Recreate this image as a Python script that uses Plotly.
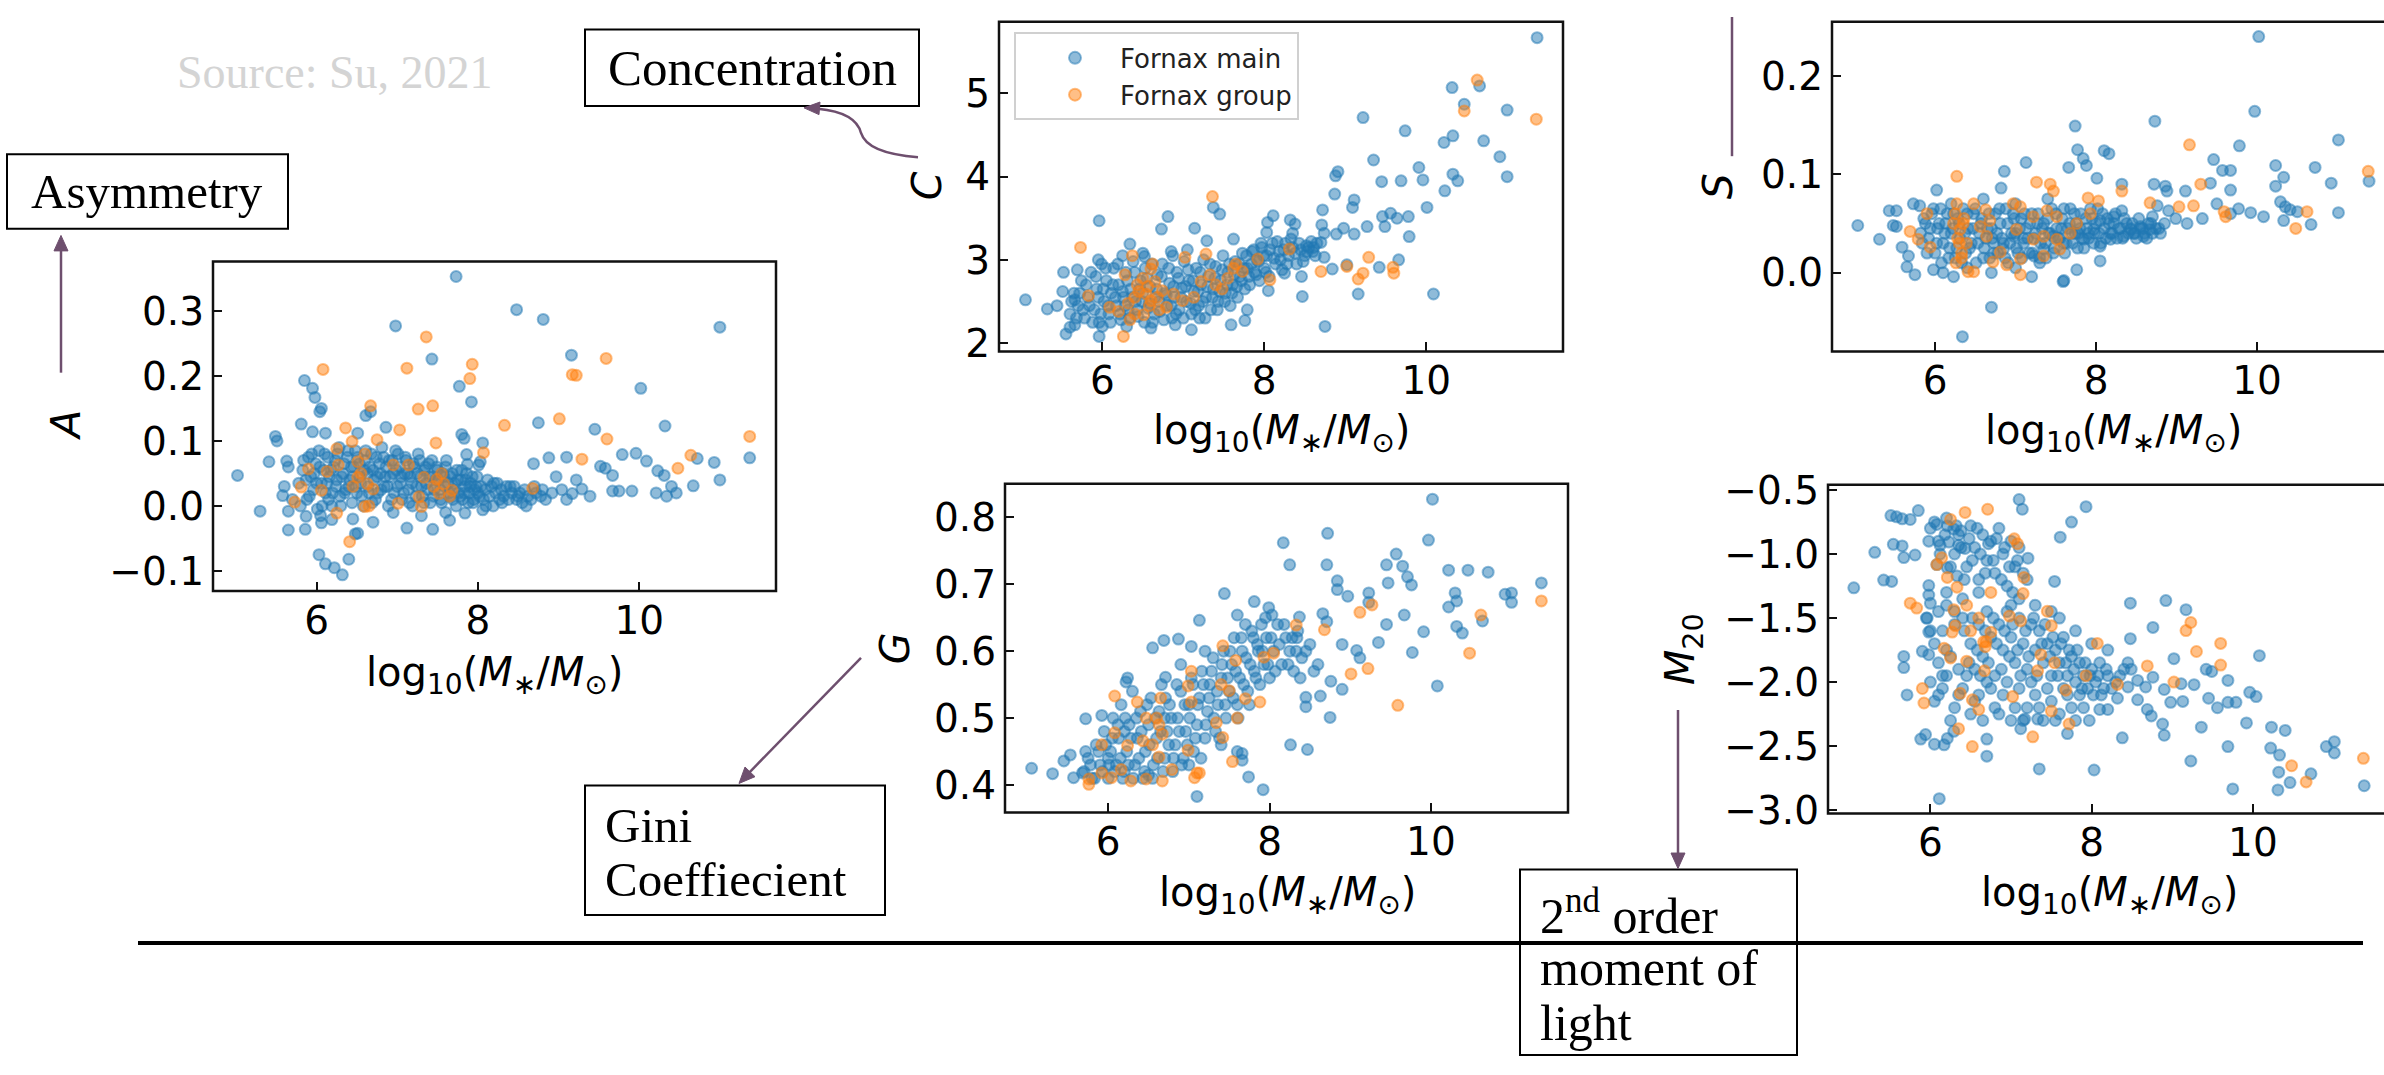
import plotly.graph_objects as go

W, H = 2384, 1075

# ---------------- data ----------------
A_main = [(5.02,0.047),(5.30,-0.008),(5.49,0.107),(5.51,0.10),(5.41,0.068),(5.63,0.069),(5.58,0.016),(5.65,-0.037),(5.86,-0.036),(5.81,0.126),(5.85,0.193),(5.95,0.181),(5.98,0.167),(6.06,0.15),(6.04,0.145),(5.95,0.114),(6.11,0.112),(6.03,-0.075),(6.11,-0.089),(6.22,-0.095),(6.32,-0.106),(6.40,-0.082),(6.51,-0.042),(6.61,0.139),(6.67,0.145),(6.51,0.112),(6.86,0.121),(6.98,0.277),(7.43,0.226),(7.77,0.184),(7.92,0.16),(7.80,0.11),(7.83,0.104),(8.06,0.097),(7.86,0.079),(8.01,0.063),(7.73,0.353),(8.48,0.302),(8.81,0.287),(9.16,0.232),(8.75,0.128),(9.45,0.118),(10.02,0.181),(10.32,0.123),(11.0,0.275),(11.37,0.074),(11.0,0.04),(8.69,0.065),(8.88,0.074),(9.1,0.075),(8.97,0.045),(9.22,0.04),(9.1,0.01),(9.29,0.026),(9.39,0.015),(9.52,0.061),(9.58,0.058),(9.67,0.047),(9.79,0.079),(9.96,0.081),(10.09,0.069),(10.23,0.054),(10.31,0.047),(10.21,0.02),(10.34,0.015),(10.46,0.02),(10.4,0.03),(10.67,0.031),(10.72,0.073),(10.93,0.067),(9.67,0.023),(9.75,0.023),(9.91,0.023),(9.04,0.025),(9.17,0.019),(7.12,-0.034),(7.44,-0.036),(7.65,-0.022),(6.48,-0.043),(5.65,-0.008),(5.87,-0.016),(6.06,-0.026),(6.19,-0.021),(7.84,-0.011),(8.06,-0.006),(8.03,0.068),(7.87,0.064),
(5.78,0.035),(5.83,0.055),(5.88,0.01),(5.9,0.075),(5.93,0.045),(5.96,0.025),(5.99,0.065),(6.01,-0.005),(6.03,0.085),(6.06,0.035),(6.09,0.055),(6.11,0.02),(6.14,0.075),(6.16,0.045),(6.19,0.0),(6.21,0.06),(6.24,0.03),(6.26,0.08),(6.29,0.015),(6.31,0.045),(6.34,0.065),(6.36,0.025),(6.39,0.085),(6.41,0.04),(6.44,0.005),(6.46,0.06),(6.49,0.03),(6.51,0.075),(6.54,0.045),(6.56,0.015),(6.59,0.055),(6.61,0.085),(6.64,0.03),(6.66,0.06),(6.69,0.005),(6.71,0.04),(6.74,0.075),(6.76,0.02),(6.79,0.05),(6.81,0.09),(6.84,0.03),(6.86,0.06),(6.89,0.0),(6.91,0.045),(6.94,0.07),(6.96,0.02),(6.99,0.055),(7.01,0.08),(7.04,0.035),(7.06,0.01),(7.09,0.05),(7.11,0.07),(7.14,0.025),(7.16,0.045),(7.19,0.0),(7.21,0.06),(7.24,0.03),(7.26,0.08),(7.29,0.045),(7.31,0.015),(7.34,0.055),(7.36,0.035),(7.39,0.065),(7.41,0.005),(7.44,0.045),(7.46,0.025),(7.49,0.06),(7.51,0.04),(7.54,0.01),(7.56,0.05),(7.59,0.03),(7.61,0.07),(7.64,0.02),(7.66,0.045),(7.69,0.01),(7.71,0.035),(7.74,0.055),(7.76,0.02),(7.79,0.04),(7.81,0.01),(7.84,0.03),(7.86,0.05),(7.89,0.02),(7.91,0.035),(7.94,0.005),(7.96,0.025),(7.99,0.045),(8.02,0.015),(8.04,0.03),(8.07,0.01),(8.09,0.025),(8.12,0.04),(8.14,0.015),(8.17,0.03),(8.19,0.0),(8.22,0.02),(8.24,0.035),(8.27,0.01),(8.29,0.025),(8.32,0.015),(8.35,0.03),(8.38,0.01),(8.42,0.02),(8.45,0.03),(8.48,0.01),(8.52,0.02),(8.55,0.005),(8.58,0.025),(8.62,0.015),(8.66,0.01),(8.72,0.02),(8.78,0.015),(8.84,0.01),(8.92,0.02),(6.05,-0.015),(6.45,-0.02),(6.7,-0.025),(6.95,-0.01),(7.3,-0.015),(7.6,-0.01),(5.7,0.01),(5.6,0.03),(5.65,0.06),
(5.8,0.0),(5.84,0.07),(5.87,0.04),(5.91,0.015),(5.94,0.08),(5.97,0.05),(6.0,0.035),(6.04,0.06),(6.07,0.0),(6.1,0.08),(6.13,0.035),(6.15,0.01),(6.18,0.055),(6.2,0.02),(6.23,0.07),(6.25,0.04),(6.28,0.09),(6.3,0.0),(6.33,0.05),(6.35,0.02),(6.38,0.075),(6.4,0.03),(6.43,0.06),(6.45,0.045),(6.48,0.085),(6.5,0.02),(6.53,0.065),(6.55,0.035),(6.58,0.0),(6.6,0.07),(6.63,0.05),(6.65,0.02),(6.68,0.08),(6.7,0.055),(6.73,0.01),(6.75,0.045),(6.78,0.065),(6.8,0.025),(6.83,0.075),(6.85,0.045),(6.88,0.03),(6.9,0.07),(6.93,0.01),(6.95,0.05),(6.98,0.085),(7.0,0.03),(7.03,0.06),(7.05,0.045),(7.08,0.02),(7.1,0.075),(7.13,0.05),(7.15,0.005),(7.18,0.035),(7.2,0.065),(7.23,0.015),(7.25,0.05),(7.28,0.07),(7.3,0.03),(7.33,0.005),(7.35,0.06),(7.38,0.025),(7.4,0.045),(7.43,0.07),(7.45,0.015),(7.48,0.04),(7.5,0.055),(7.53,0.025),(7.55,0.005),(7.58,0.045),(7.6,0.06),(7.63,0.035),(7.65,0.015),(7.68,0.05),(7.7,0.025),(7.73,0.0),(7.75,0.04),(7.78,0.015),(7.8,0.055),(7.83,0.02),(7.85,0.04),(7.88,0.005),(7.9,0.03),(7.93,0.045),(7.95,0.01),(7.98,0.03),(8.0,0.02),(8.1,0.0),(8.2,0.035),(8.3,0.005),(8.4,0.03),(8.5,0.015),(8.6,0.0),(8.7,0.03),(8.8,0.025)]
A_group = [(6.08,0.21),(7.36,0.26),(7.12,0.212),(7.93,0.218),(7.90,0.196),(7.26,0.149),(7.44,0.154),(6.67,0.154),(6.36,0.12),(6.44,0.099),(6.75,0.102),(7.03,0.117),(7.48,0.097),(8.07,0.082),(8.33,0.124),(9.01,0.134),(9.59,0.227),(9.17,0.202),(9.22,0.201),(9.29,0.072),(9.6,0.103),(10.48,0.058),(10.64,0.078),(11.37,0.107),(8.68,0.027),(6.41,-0.055),(5.73,0.006),(5.9,0.057),(6.25,0.088),(6.27,0.063),(6.51,0.068),(6.63,0.034),(6.7,0.026),(6.60,-0.001),(6.25,-0.011),(6.95,0.063),(7.14,0.063),(7.33,0.044),(7.49,0.041),(7.58,0.034),(7.68,0.024),(7.52,0.019),(7.01,0.004),(7.27,0.014),(6.13,0.053),(5.81,0.029),(6.06,0.024),(6.51,0.044),(7.3,-0.001),(6.55,0.05),(6.6,0.08),(6.45,0.03),(6.65,0.0),(7.45,0.03),(7.55,0.05),(7.65,0.015)]

C_main = [(5.05,2.52),(5.32,2.41),(5.44,2.45),(5.52,2.85),(5.51,2.62),(5.55,2.11),(5.6,2.19),(5.66,2.22),(5.66,2.52),(5.69,2.88),(5.96,3.47),(5.96,2.08),(6.34,3.19),(6.52,3.04),(6.73,3.37),(6.81,3.52),(6.87,3.05),(7.14,3.38),(7.10,2.16),(7.29,3.23),(7.37,3.63),(7.45,3.55),(7.62,3.25),(7.59,2.22),(7.76,2.27),(7.79,2.40),(8.11,3.53),(8.04,3.45),(8.03,3.33),(8.05,2.63),(8.25,2.84),(8.32,3.48),(8.38,3.43),(8.35,3.32),(8.46,2.80),(8.47,2.56),(8.52,3.17),(8.61,3.15),(8.70,3.21),(8.72,3.60),(8.71,3.42),(8.74,3.32),(8.74,3.03),(8.75,2.20),(8.84,2.89),(8.87,3.79),(8.88,4.01),(8.91,4.06),(8.89,3.31),(8.98,3.38),(9.02,2.94),(9.09,3.63),(9.11,3.72),(9.11,3.31),(9.16,2.59),(9.22,4.71),(9.27,3.40),(9.35,4.20),(9.42,2.91),(9.45,3.94),(9.46,3.52),(9.49,3.40),(9.56,3.56),(9.64,3.50),(9.66,3.0),(9.69,3.95),(9.74,4.55),(9.78,3.52),(9.79,3.28),(9.91,4.11),(9.96,3.96),(10.01,3.63),(10.09,2.59),(10.23,3.83),(10.22,4.41),(10.33,4.49),(10.32,5.07),(10.33,4.03),(10.39,3.95),(10.47,4.87),(10.66,5.09),(10.71,4.43),(10.91,4.24),(11.0,4.0),(11.0,4.80),(11.37,5.67),
(5.6,2.35),(5.65,2.6),(5.7,2.45),(5.74,2.75),(5.78,2.3),(5.82,2.55),(5.86,2.85),(5.9,2.4),(5.93,2.65),(5.96,2.25),(5.99,2.95),(6.02,2.5),(6.05,2.75),(6.08,2.35),(6.11,2.6),(6.14,2.9),(6.17,2.45),(6.2,2.7),(6.23,2.28),(6.26,2.55),(6.29,2.85),(6.32,2.4),(6.35,2.65),(6.38,2.98),(6.41,2.5),(6.44,2.32),(6.47,2.75),(6.5,2.6),(6.53,2.9),(6.56,2.42),(6.59,2.68),(6.62,2.25),(6.65,2.55),(6.68,2.82),(6.71,2.38),(6.74,2.95),(6.77,2.6),(6.8,2.45),(6.83,2.72),(6.86,2.3),(6.89,2.55),(6.92,2.85),(6.95,2.4),(6.98,2.66),(7.01,2.98),(7.04,2.5),(7.07,2.75),(7.1,2.35),(7.13,2.62),(7.16,2.9),(7.19,2.45),(7.22,2.7),(7.25,3.0),(7.28,2.55),(7.31,2.8),(7.34,2.4),(7.37,2.65),(7.4,2.92),(7.43,2.5),(7.46,2.75),(7.49,3.05),(7.52,2.6),(7.55,2.85),(7.58,2.45),(7.61,2.7),(7.64,2.98),(7.67,2.55),(7.7,2.8),(7.73,3.08),(7.76,2.65),(7.79,2.9),(7.82,2.7),(7.85,3.1),(7.88,2.85),(7.91,3.0),(7.94,2.75),(7.97,3.15),(8.0,2.9),(8.03,3.05),(8.06,2.8),(8.1,3.2),(8.14,2.95),(8.18,3.1),(8.22,2.88),(8.26,3.2),(8.3,3.05),(8.35,3.15),(8.4,2.95),(8.45,3.12),(8.5,3.05),(8.55,3.15),(8.6,3.1),(8.65,3.2),(6.0,2.2),(6.3,2.2),(6.6,2.18),(6.9,2.22),(7.2,2.3),(5.95,3.0),(6.25,3.05),(6.5,3.08),(6.85,3.1),(7.05,3.12),
(5.62,2.5),(5.68,2.3),(5.72,2.6),(5.76,2.4),(5.8,2.7),(5.84,2.45),(5.88,2.25),(5.92,2.8),(5.95,2.55),(5.98,2.35),(6.01,2.65),(6.04,2.9),(6.07,2.45),(6.1,2.25),(6.13,2.7),(6.16,2.55),(6.19,2.95),(6.22,2.35),(6.25,2.62),(6.28,2.45),(6.31,2.75),(6.34,2.3),(6.37,2.55),(6.4,2.85),(6.43,2.4),(6.46,2.65),(6.49,2.5),(6.52,2.25),(6.55,2.78),(6.58,2.48),(6.61,2.95),(6.64,2.35),(6.67,2.65),(6.7,2.5),(6.73,2.8),(6.76,2.28),(6.79,2.58),(6.82,2.9),(6.85,2.45),(6.88,2.68),(6.91,2.35),(6.94,2.78),(6.97,2.55),(7.0,2.3),(7.03,2.68),(7.06,2.88),(7.09,2.48),(7.12,2.75),(7.15,2.4),(7.18,2.62),(7.21,2.85),(7.24,2.5),(7.27,2.3),(7.3,2.68),(7.33,2.95),(7.36,2.55),(7.39,2.78),(7.42,2.4),(7.45,2.62),(7.48,2.88),(7.51,2.5),(7.54,2.7),(7.57,2.95),(7.6,2.6),(7.63,2.82),(7.66,2.68),(7.69,2.95),(7.72,2.75),(7.75,2.9),(7.78,3.05),(7.81,2.8),(7.84,2.95),(7.87,3.12),(7.9,2.82),(7.93,2.98),(7.96,3.2),(7.99,3.05),(8.02,2.85),(8.07,3.12),(8.12,3.02),(8.16,3.22),(8.2,3.0),(8.24,3.12),(8.28,2.95),(8.33,3.25),(8.38,3.08),(8.43,3.2),(8.48,2.98),(8.53,3.1),(8.58,3.22),(8.63,3.05)]
C_group = [(5.73,3.15),(5.83,2.57),(6.26,2.08),(6.37,3.05),(6.28,2.82),(6.43,2.70),(6.54,2.59),(6.65,2.74),(6.74,2.63),(6.60,2.89),(6.51,2.34),(6.34,2.28),(6.20,2.38),(6.09,2.43),(6.88,2.59),(6.99,2.51),(7.13,2.55),(7.22,2.74),(7.33,2.82),(7.48,2.65),(7.02,3.03),(7.28,3.07),(7.36,3.76),(7.62,2.90),(7.73,2.86),(7.92,3.01),(8.07,2.76),(8.31,3.13),(8.70,2.86),(9.02,2.92),(9.16,2.77),(9.22,2.84),(9.29,3.03),(9.59,2.91),(9.60,2.84),(10.47,4.79),(10.63,5.16),(11.36,4.69),(6.60,2.51),(6.40,2.55),(6.79,2.43),(6.45,2.62),(6.58,2.45),(6.68,2.55),(6.32,2.48),(6.5,2.78),(6.62,2.95),(6.7,2.4),(6.4,2.35),(6.56,2.68),(7.4,2.7),(7.55,2.78),(7.65,2.95)]

S_main = [(5.04,0.048),(5.31,0.034),(5.43,0.063),(5.52,0.063),(5.48,0.048),(5.52,0.047),(5.59,0.026),(5.67,0.017),(5.65,0.006),(5.75,-0.002),(5.73,0.07),(5.81,0.068),(6.02,0.084),(5.98,0.003),(6.23,-0.004),(6.70,-0.035),(6.34,-0.065),(6.82,0.086),(6.86,0.103),(7.13,0.112),(7.20,-0.004),(7.59,-0.009),(7.74,0.149),(7.77,0.125),(7.84,0.116),(7.88,0.109),(7.66,0.107),(7.76,0.003),(10.02,0.240),(9.97,0.164),(8.73,0.154),(8.10,0.124),(8.16,0.121),(8.01,0.096),(8.32,0.09),(8.72,0.09),(8.86,0.088),(8.88,0.083),(9.11,0.083),(9.46,0.115),(9.57,0.104),(9.67,0.104),(9.78,0.129),(9.67,0.084),(9.42,0.091),(10.23,0.109),(10.33,0.097),(10.23,0.088),(10.72,0.107),(10.92,0.091),(11.01,0.135),(11.39,0.093),(11.01,0.061),(10.29,0.072),(10.35,0.067),(10.41,0.064),(10.50,0.062),(10.33,0.053),(10.67,0.049),(10.08,0.057),(9.92,0.061),(9.77,0.065),(9.67,0.06),(9.50,0.070),(9.32,0.055),(9.13,0.05),(8.99,0.055),(8.90,0.063),(8.76,0.068),(8.70,0.057),(8.55,0.047),(8.43,0.044),(8.32,0.063),(8.22,0.057),(8.05,0.053),(7.97,0.044),(7.85,0.034),(7.74,0.04),(7.60,0.03),(7.47,0.037),(7.35,0.024),(7.23,0.017),(7.1,0.03),(6.98,0.037),(6.85,0.024),(6.73,0.03),(8.05,0.012),(7.6,-0.008),(8.05,0.027),(8.18,0.034),(8.34,0.037),(8.47,0.04),(8.59,0.037),(8.67,0.044),
(5.82,0.04),(5.86,0.055),(5.9,0.02),(5.94,0.045),(5.98,0.065),(6.02,0.03),(6.05,0.05),(6.08,0.01),(6.12,0.04),(6.15,0.06),(6.18,0.025),(6.22,0.045),(6.25,0.015),(6.28,0.055),(6.31,0.035),(6.35,0.065),(6.38,0.02),(6.41,0.045),(6.45,0.03),(6.48,0.06),(6.51,0.01),(6.55,0.04),(6.58,0.055),(6.61,0.025),(6.65,0.045),(6.68,0.015),(6.71,0.035),(6.75,0.06),(6.78,0.02),(6.81,0.05),(6.85,0.03),(6.88,0.065),(6.91,0.01),(6.95,0.04),(6.98,0.055),(7.01,0.025),(7.05,0.045),(7.08,0.015),(7.11,0.06),(7.15,0.035),(7.18,0.05),(7.21,0.02),(7.25,0.04),(7.28,0.06),(7.31,0.03),(7.35,0.05),(7.38,0.015),(7.41,0.04),(7.45,0.065),(7.48,0.025),(7.51,0.045),(7.55,0.035),(7.58,0.055),(7.61,0.02),(7.65,0.045),(7.68,0.065),(7.71,0.03),(7.75,0.05),(7.78,0.04),(7.81,0.06),(7.85,0.025),(7.88,0.045),(7.91,0.035),(7.95,0.055),(7.98,0.04),(8.02,0.065),(8.06,0.03),(8.1,0.045),(8.14,0.055),(8.18,0.04),(8.22,0.05),(8.26,0.035),(8.3,0.045),(8.35,0.055),(8.4,0.04),(8.45,0.05),(8.5,0.035),(8.55,0.045),(8.6,0.04),(8.65,0.05),(8.7,0.04),(8.78,0.045),(8.85,0.05),(6.1,0.0),(6.4,0.005),(6.7,0.0),(7.0,0.005),(7.3,0.01),(6.2,0.07),(6.6,0.075),(7.0,0.07),(7.4,0.075),
(5.84,0.03),(5.88,0.05),(5.92,0.035),(5.96,0.06),(6.0,0.02),(6.03,0.045),(6.07,0.065),(6.1,0.03),(6.13,0.05),(6.17,0.015),(6.2,0.04),(6.23,0.06),(6.27,0.025),(6.3,0.05),(6.33,0.01),(6.37,0.04),(6.4,0.06),(6.43,0.025),(6.47,0.045),(6.5,0.065),(6.53,0.03),(6.57,0.05),(6.6,0.015),(6.63,0.035),(6.67,0.06),(6.7,0.045),(6.73,0.02),(6.77,0.04),(6.8,0.065),(6.83,0.035),(6.87,0.015),(6.9,0.05),(6.93,0.03),(6.97,0.06),(7.0,0.04),(7.03,0.02),(7.07,0.055),(7.1,0.035),(7.13,0.045),(7.17,0.02),(7.2,0.06),(7.23,0.035),(7.27,0.05),(7.3,0.015),(7.33,0.045),(7.37,0.03),(7.4,0.055),(7.43,0.04),(7.47,0.02),(7.5,0.06),(7.53,0.035),(7.57,0.045),(7.6,0.065),(7.63,0.03),(7.67,0.05),(7.7,0.04),(7.73,0.06),(7.77,0.025),(7.8,0.045),(7.83,0.035),(7.87,0.055),(7.9,0.04),(7.93,0.065),(7.97,0.03),(8.0,0.05),(8.04,0.04),(8.08,0.06),(8.12,0.035),(8.16,0.05),(8.2,0.04),(8.24,0.06),(8.28,0.045),(8.33,0.035),(8.38,0.05),(8.43,0.045),(8.48,0.04),(8.53,0.055),(8.58,0.045),(8.63,0.035),(8.68,0.05),(8.74,0.045),(8.8,0.04)]
S_group = [(6.27,0.098),(5.9,0.06),(5.69,0.042),(5.79,0.034),(5.94,0.026),(6.27,0.07),(6.48,0.070),(6.63,0.064),(6.23,0.05),(6.31,0.044),(6.39,0.03),(6.56,0.047),(6.68,0.053),(6.64,0.037),(6.48,0.001),(6.41,0.001),(7.06,-0.002),(7.26,0.092),(7.43,0.09),(7.47,0.083),(6.97,0.07),(7.06,0.067),(7.22,0.057),(7.39,0.063),(7.51,0.057),(7.01,0.044),(7.22,0.034),(7.35,0.037),(7.51,0.034),(7.68,0.04),(7.76,0.05),(7.06,0.014),(7.35,0.017),(7.55,0.024),(6.72,0.011),(6.81,0.021),(6.89,0.008),(7.93,0.06),(7.9,0.076),(9.16,0.130),(11.38,0.103),(9.30,0.09),(8.32,0.083),(8.67,0.071),(9.03,0.067),(9.21,0.068),(9.59,0.062),(9.61,0.057),(10.62,0.062),(10.48,0.045),(8.03,0.073),(6.28,0.035),(6.33,0.02),(6.36,0.055),(6.26,0.01),(6.3,0.03),(6.35,0.05),(6.25,0.06),(6.33,0.015)]

G_main = [(5.05,0.425),(5.31,0.417),(5.45,0.436),(5.53,0.445),(5.57,0.411),(5.68,0.418),(5.72,0.499),(5.92,0.504),(6.22,0.554),(6.24,0.56),(6.55,0.605),(6.69,0.616),(6.87,0.618),(7.03,0.607),(6.71,0.561),(7.10,0.383),(7.13,0.646),(7.44,0.686),(7.92,0.393),(7.74,0.412),(7.66,0.437),(7.66,0.447),(7.60,0.654),(7.81,0.674),(7.99,0.665),(8.03,0.654),(8.17,0.762),(8.25,0.729),(8.26,0.46),(8.47,0.453),(8.34,0.62),(8.37,0.651),(8.45,0.517),(8.63,0.533),(8.45,0.531),(8.75,0.501),(8.90,0.543),(8.76,0.555),(8.72,0.776),(8.71,0.729),(8.66,0.656),(8.71,0.644),(8.90,0.61),(8.84,0.705),(8.84,0.692),(8.97,0.682),(9.08,0.601),(9.23,0.687),(9.23,0.673),(9.12,0.59),(9.35,0.613),(9.45,0.729),(9.57,0.745),(9.47,0.702),(9.65,0.727),(9.71,0.711),(9.76,0.699),(9.45,0.64),(9.67,0.654),(9.77,0.598),(9.91,0.629),(9.97,0.766),(10.02,0.827),(10.08,0.548),(10.22,0.721),(10.46,0.721),(10.71,0.718),(10.22,0.666),(10.30,0.687),(10.32,0.675),(10.32,0.637),(10.39,0.627),(10.64,0.645),(10.92,0.685),(11.0,0.687),(11.0,0.673),(11.37,0.702),
(5.7,0.42),(5.75,0.44),(5.8,0.41),(5.85,0.46),(5.9,0.43),(5.95,0.48),(6.0,0.41),(6.03,0.45),(6.06,0.5),(6.1,0.43),(6.13,0.47),(6.16,0.52),(6.2,0.42),(6.23,0.45),(6.26,0.49),(6.3,0.54),(6.33,0.43),(6.36,0.47),(6.4,0.51),(6.43,0.41),(6.46,0.45),(6.5,0.49),(6.53,0.53),(6.56,0.43),(6.6,0.47),(6.63,0.51),(6.66,0.55),(6.7,0.44),(6.73,0.48),(6.76,0.52),(6.8,0.42),(6.83,0.46),(6.86,0.5),(6.9,0.54),(6.93,0.44),(6.96,0.48),(7.0,0.52),(7.03,0.56),(7.06,0.45),(7.1,0.49),(7.13,0.53),(7.16,0.57),(7.2,0.47),(7.23,0.51),(7.26,0.55),(7.3,0.59),(7.33,0.48),(7.36,0.52),(7.4,0.56),(7.43,0.6),(7.46,0.5),(7.5,0.54),(7.53,0.58),(7.56,0.62),(7.6,0.52),(7.63,0.56),(7.66,0.6),(7.7,0.64),(7.73,0.54),(7.76,0.58),(7.8,0.62),(7.83,0.56),(7.86,0.6),(7.9,0.64),(7.93,0.58),(7.96,0.62),(8.0,0.56),(8.05,0.6),(8.1,0.64),(8.15,0.58),(8.2,0.62),(8.25,0.6),(8.3,0.57),(8.35,0.63),(8.4,0.59),(8.5,0.61),(8.6,0.58),(6.0,0.44),(6.5,0.415),(7.0,0.43),(7.4,0.46),(7.6,0.45),(6.2,0.48),(6.7,0.5),(7.2,0.6),(6.9,0.58),
(5.72,0.45),(5.78,0.43),(5.83,0.41),(5.88,0.45),(5.93,0.42),(5.97,0.46),(6.01,0.43),(6.05,0.47),(6.08,0.42),(6.12,0.49),(6.15,0.44),(6.18,0.41),(6.21,0.5),(6.25,0.43),(6.28,0.47),(6.31,0.41),(6.35,0.5),(6.38,0.44),(6.41,0.48),(6.45,0.42),(6.48,0.52),(6.51,0.46),(6.55,0.41),(6.58,0.5),(6.61,0.44),(6.65,0.48),(6.68,0.42),(6.71,0.53),(6.75,0.46),(6.78,0.5),(6.81,0.44),(6.85,0.55),(6.88,0.48),(6.91,0.43),(6.95,0.52),(6.98,0.46),(7.01,0.5),(7.05,0.55),(7.08,0.47),(7.11,0.52),(7.15,0.44),(7.18,0.55),(7.21,0.49),(7.25,0.53),(7.28,0.57),(7.31,0.5),(7.35,0.54),(7.38,0.47),(7.41,0.58),(7.45,0.52),(7.48,0.56),(7.51,0.6),(7.55,0.53),(7.58,0.57),(7.61,0.5),(7.65,0.62),(7.68,0.55),(7.71,0.59),(7.75,0.52),(7.78,0.63),(7.81,0.57),(7.85,0.61),(7.88,0.55),(7.91,0.6),(7.95,0.65),(7.98,0.58),(8.02,0.62),(8.07,0.57),(8.12,0.61),(8.18,0.64),(8.23,0.58),(8.28,0.62),(8.33,0.6),(8.38,0.56),(8.45,0.6),(8.55,0.57)]
G_group = [(11.37,0.675),(10.62,0.654),(10.48,0.597),(9.59,0.519),(9.22,0.574),(9.01,0.566),(9.12,0.658),(9.27,0.669),(8.68,0.632),(8.33,0.639),(7.93,0.591),(8.05,0.597),(7.58,0.586),(7.42,0.608),(7.50,0.541),(7.70,0.529),(7.88,0.524),(7.03,0.57),(6.99,0.548),(7.03,0.524),(7.34,0.493),(7.42,0.471),(7.54,0.435),(7.10,0.418),(7.07,0.411),(6.99,0.452),(6.08,0.533),(6.36,0.524),(6.47,0.50),(6.63,0.490),(6.67,0.476),(6.43,0.466),(6.24,0.459),(6.16,0.423),(6.63,0.442),(6.79,0.423),(6.47,0.409),(6.28,0.406),(6.04,0.411),(5.92,0.418),(5.76,0.401),(5.76,0.409),(5.92,0.46),(6.08,0.478),(6.67,0.406),(7.13,0.418),(6.6,0.5),(6.55,0.46),(6.65,0.53),(7.4,0.55),(7.6,0.5)]

M_main = [(5.05,-1.264),(5.31,-0.987),(5.42,-1.204),(5.52,-1.214),(5.51,-0.70),(5.58,-0.71),(5.65,-0.726),(5.75,-0.731),(5.85,-0.661),(5.54,-0.925),(5.65,-0.937),(5.67,-1.028),(5.81,-1.008),(5.67,-1.80),(5.67,-1.887),(5.71,-2.10),(5.88,-2.445),(5.94,-2.41),(6.05,-2.485),(6.11,-2.91),(5.98,-1.32),(6.0,-1.385),(5.98,-1.246),(5.96,-1.5),(5.98,-1.61),(5.90,-1.76),(5.98,-1.786),(6.21,-2.44),(6.17,-2.49),(6.29,-2.384),(6.70,-2.445),(6.70,-2.578),(6.08,-0.769),(6.21,-0.781),(6.29,-0.806),(6.38,-0.819),(6.12,-0.932),(6.23,-0.907),(6.35,-0.932),(6.43,-0.957),(6.08,-1.083),(6.21,-1.108),(6.33,-1.171),(7.10,-0.575),(7.14,-0.651),(7.93,-0.631),(7.75,-0.751),(7.61,-0.869),(7.21,-1.033),(7.54,-1.214),(8.48,-1.384),(8.92,-1.364),(9.17,-1.435),(8.76,-1.573),(8.48,-1.661),(9.02,-1.817),(10.08,-1.794),(9.42,-1.90),(9.49,-1.917),(9.69,-1.987),(8.45,-1.849),(8.49,-1.899),(8.57,-1.987),(8.67,-2.038),(8.76,-1.962),(8.90,-2.058),(9.11,-2.013),(9.27,-2.02),(8.98,-2.158),(9.13,-2.151),(9.45,-2.126),(9.56,-2.20),(9.69,-2.158),(9.79,-2.158),(9.96,-2.08),(10.04,-2.113),(8.69,-2.214),(8.74,-2.264),(8.88,-2.327),(8.90,-2.415),(8.38,-2.435),(9.36,-2.352),(9.69,-2.503),(9.23,-2.616),(9.92,-2.319),(10.23,-2.352),(10.40,-2.377),(10.22,-2.515),(10.33,-2.57),(10.32,-2.703),(10.46,-2.784),(10.31,-2.842),(10.72,-2.716),(10.91,-2.503),(11.01,-2.465),(11.01,-2.553),(11.38,-2.809),(9.75,-2.834),(7.35,-2.678),(8.03,-2.686),(7.17,-2.289),(7.33,-2.289),(7.12,-2.364),(7.97,-2.30),(7.70,-2.402),(8.10,-2.214),(8.2,-2.214),(8.32,-2.126),(8.45,-2.038),(8.57,-2.138),
(6.0,-0.8),(6.1,-0.9),(6.2,-0.72),(6.3,-1.0),(6.35,-0.85),(6.45,-1.1),(6.5,-0.78),(6.55,-0.95),(6.6,-1.2),(6.65,-0.85),(6.7,-1.05),(6.75,-0.9),(6.8,-1.15),(6.85,-0.8),(6.9,-1.0),(6.95,-1.25),(7.0,-0.9),(7.05,-1.1),(7.1,-0.95),(7.2,-1.2),(6.2,-1.3),(6.4,-1.35),(6.6,-1.3),(6.4,-1.5),(6.5,-1.7),(6.55,-1.9),(6.6,-1.55),(6.65,-1.8),(6.7,-1.45),(6.75,-1.65),(6.8,-1.95),(6.85,-1.55),(6.9,-1.75),(6.95,-1.45),(7.0,-1.65),(7.05,-1.85),(7.1,-1.5),(7.15,-1.7),(7.2,-1.9),(7.25,-1.55),(7.3,-1.75),(7.35,-1.6),(7.4,-1.85),(7.45,-1.7),(7.5,-1.95),(7.55,-1.75),(7.6,-1.85),(7.65,-1.65),(7.7,-1.95),(7.75,-1.8),(7.8,-2.0),(7.85,-1.85),(7.9,-1.95),(7.95,-2.05),(8.0,-1.9),(8.05,-2.0),(8.1,-1.85),(8.15,-2.05),(8.2,-1.95),(8.3,-2.0),(8.4,-1.9),(6.0,-2.0),(6.1,-2.1),(6.2,-1.95),(6.3,-2.2),(6.4,-2.05),(6.5,-2.25),(6.6,-2.1),(6.7,-2.0),(6.8,-2.2),(6.9,-2.1),(7.0,-2.3),(7.1,-2.05),(7.2,-2.2),(7.3,-2.1),(7.4,-2.3),(7.5,-2.15),(7.6,-2.25),(7.7,-2.1),(7.8,-2.3),(7.9,-2.2),(5.95,-1.5),(6.05,-1.7),(6.15,-1.6),(6.25,-1.8),(6.3,-1.55),(6.35,-1.9),(6.1,-1.85),(6.2,-1.4),(7.0,-1.4),(7.1,-1.35),(7.3,-1.4),(7.5,-1.45),(7.6,-1.5),(7.8,-1.6),(8.0,-1.7),(8.2,-1.75),
(5.98,-0.9),(6.05,-0.75),(6.12,-1.0),(6.18,-0.85),(6.25,-1.1),(6.32,-0.78),(6.38,-0.95),(6.42,-1.2),(6.48,-0.88),(6.52,-1.05),(6.58,-0.8),(6.62,-1.0),(6.68,-1.15),(6.72,-0.92),(6.78,-1.05),(6.82,-0.88),(6.88,-1.2),(6.92,-0.95),(6.98,-1.1),(7.02,-1.3),(7.08,-1.05),(7.15,-1.15),(6.42,-1.6),(6.48,-1.85),(6.52,-1.5),(6.58,-1.75),(6.62,-1.95),(6.68,-1.6),(6.72,-1.85),(6.78,-1.5),(6.82,-1.7),(6.88,-1.9),(6.92,-1.6),(6.98,-1.8),(7.02,-1.55),(7.08,-1.75),(7.12,-1.95),(7.18,-1.6),(7.22,-1.8),(7.28,-1.5),(7.32,-1.95),(7.38,-1.7),(7.42,-1.55),(7.48,-1.8),(7.52,-1.65),(7.58,-1.95),(7.62,-1.7),(7.68,-1.85),(7.72,-1.75),(7.78,-1.9),(7.82,-1.75),(7.88,-2.05),(7.92,-1.85),(7.98,-1.95),(8.02,-2.1),(8.08,-1.95),(8.12,-2.1),(8.18,-1.9),(8.25,-2.05),(8.35,-1.95),(6.05,-2.15),(6.15,-2.05),(6.25,-2.3),(6.35,-2.1),(6.45,-1.95),(6.55,-2.15),(6.65,-2.3),(6.75,-2.05),(6.85,-2.25),(6.95,-2.0),(7.05,-2.2),(7.15,-2.3),(7.25,-2.0),(7.35,-2.2),(7.45,-2.05),(7.55,-2.3),(7.65,-2.05),(7.75,-2.2),(7.85,-2.1),(6.0,-1.6),(6.1,-1.45),(6.2,-1.75),(6.3,-1.45),(6.15,-1.95)]
M_group = [(11.37,-2.595),(10.48,-2.653),(10.66,-2.779),(9.60,-1.698),(9.60,-1.867),(9.30,-1.761),(9.17,-1.598),(9.23,-1.535),(9.02,-2.0),(8.69,-1.874),(8.32,-2.018),(8.07,-1.698),(7.93,-1.95),(7.68,-2.063),(7.72,-2.327),(7.50,-2.226),(7.27,-2.427),(6.71,-0.651),(7.04,-0.882),(7.08,-0.92),(7.16,-1.183),(7.15,-1.309),(7.45,-1.447),(7.50,-1.56),(6.98,-1.485),(7.12,-1.523),(7.37,-1.786),(7.54,-1.849),(7.33,-1.912),(7.02,-2.113),(6.69,-1.686),(6.75,-1.611),(6.67,-1.912),(6.25,-0.731),(6.43,-0.676),(6.08,-1.083),(6.14,-1.03),(5.75,-1.384),(5.83,-1.422),(6.29,-1.435),(6.31,-1.56),(6.27,-1.61),(6.17,-1.736),(6.25,-1.812),(6.45,-1.837),(6.66,-1.686),(6.68,-1.724),(5.90,-2.05),(5.92,-2.163),(6.37,-2.088),(6.52,-2.138),(6.60,-2.214),(6.35,-2.364),(6.52,-2.503),(6.21,-1.183),(6.33,-1.259),(6.5,-1.6),(6.6,-1.5),(6.45,-1.4),(6.75,-1.3)]

x_ticks = [6, 8, 10]
x_tick_labels = ["6", "8", "10"]
A_ticks = [-0.1, 0.0, 0.1, 0.2, 0.3]
A_tick_labels = ["\u22120.1", "0.0", "0.1", "0.2", "0.3"]
C_ticks = [2, 3, 4, 5]
C_tick_labels = ["2", "3", "4", "5"]
S_ticks = [0.0, 0.1, 0.2]
S_tick_labels = ["0.0", "0.1", "0.2"]
G_ticks = [0.4, 0.5, 0.6, 0.7, 0.8]
G_tick_labels = ["0.4", "0.5", "0.6", "0.7", "0.8"]
M_ticks = [-3.0, -2.5, -2.0, -1.5, -1.0, -0.5]
M_tick_labels = ["\u22123.0", "\u22122.5", "\u22122.0", "\u22121.5", "\u22121.0", "\u22120.5"]
series_names = ["Fornax main", "Fornax group"]

# ---------------- helpers ----------------
def px(x):
    return x / W

def py(y):
    return 1 - y / H

BLUE = "rgba(31,119,180,0.5)"
ORANGE = "rgba(255,127,14,0.5)"
SANS = "DejaVu Sans"
SERIF = "Liberation Serif, Times New Roman, serif"
ARROW = "#6e4f6e"

panels = [
    # key, main, group, frame px (x0,y0,x1,y1), xrange, yrange, yticks, ylabels, ytitle, ytitle pos, xtitle pos
    ("", A_main, A_group, (213, 253, 776, 594), [4.716, 11.696], [-0.131, 0.376], A_ticks, A_tick_labels, "<i>A</i>", (66, 423), (494, 681)),
    ("2", C_main, C_group, (999, 5, 1563, 346), [4.723, 11.69], [1.90, 5.86], C_ticks, C_tick_labels, "<i>C</i>", (927, 175), (1281, 430)),
    ("3", S_main, S_group, (1832, 5, 2394, 346), [4.72, 11.70], [-0.080, 0.255], S_ticks, S_tick_labels, "<i>S</i>", (1718, 175), (2113, 430)),
    ("4", G_main, G_group, (1005, 483, 1568, 823), [4.72, 11.70], [0.359, 0.850], G_ticks, G_tick_labels, "<i>G</i>", (895, 653), (1287, 908)),
    ("5", M_main, M_group, (1828, 484, 2390, 824), [4.73, 11.70], [-3.025, -0.46], M_ticks, M_tick_labels, "<i>M</i><sub>20</sub>", (1683, 654), (2109, 908)),
]

fig = go.Figure()
layout = dict(
    width=W, height=H, autosize=False,
    margin=dict(l=0, r=0, t=0, b=0, pad=0),
    paper_bgcolor="white", plot_bgcolor="rgba(0,0,0,0)",
    showlegend=True,
    legend=dict(x=px(1014), y=py(16), xanchor="left", yanchor="top",
                bgcolor="rgba(255,255,255,0.85)", bordercolor="#d0d0d0", borderwidth=2,
                font=dict(family=SANS, size=26, color="#222"), itemsizing="constant",
                itemwidth=80, indentation=14, tracegroupgap=0),
)
shapes = []
annotations = []

xlabel = "log<sub>10</sub>(<i>M</i><sub>\u2217</sub>/<i>M</i><sub>\u2299</sub>)"

for (k, main, grp, fr, xr, yr, yt, ytl, ytitle, ypos, xpos) in panels:
    x0, y0, x1, y1 = fr
    xa = "x" + k
    ya = "y" + k
    fig.add_trace(go.Scatter(
        x=[p[0] for p in main], y=[p[1] for p in main], mode="markers",
        name=series_names[0], legendgroup="main", showlegend=(k == "2"),
        xaxis=xa, yaxis=ya, hoverinfo="skip",
        marker=dict(size=11, color=BLUE, line=dict(color=BLUE, width=2))))
    fig.add_trace(go.Scatter(
        x=[p[0] for p in grp], y=[p[1] for p in grp], mode="markers",
        name=series_names[1], legendgroup="group", showlegend=(k == "2"),
        xaxis=xa, yaxis=ya, hoverinfo="skip",
        marker=dict(size=11, color=ORANGE, line=dict(color=ORANGE, width=2))))
    xr_use = list(xr)
    if x1 > W:
        # axis is cut by the page edge: keep the same scale
        scale = (x1 - x0) / (xr[1] - xr[0])
        xr_use[1] = xr[0] + (W - x0) / scale
    xd = [px(x0), min(px(x1), 1.0)]
    common = dict(showgrid=False, zeroline=False, showline=False, ticks="inside",
                  ticklen=9, tickwidth=2, tickcolor="#111",
                  tickfont=dict(family=SANS, size=39, color="black"))
    layout["xaxis" + k] = dict(domain=xd, range=xr_use, anchor=ya, tickvals=x_ticks,
                              ticktext=x_tick_labels, ticklabelstandoff=3, **common)
    layout["yaxis" + k] = dict(domain=[py(y1), py(y0)], range=yr, anchor=xa, tickvals=yt,
                              ticktext=ytl, ticklabelstandoff=8, **common)
    shapes.append(dict(type="rect", xref="paper", yref="paper",
                       x0=px(x0), x1=px(x1), y0=py(y1), y1=py(y0),
                       line=dict(color="#111", width=2.5), layer="above"))
    annotations.append(dict(text=xlabel, x=px(xpos[0]), y=py(xpos[1]), xref="paper", yref="paper",
                            showarrow=False, xanchor="center", yanchor="middle",
                            font=dict(family=SANS, size=40, color="black")))
    annotations.append(dict(text=ytitle, x=px(ypos[0]), y=py(ypos[1]), xref="paper", yref="paper",
                            showarrow=False, xanchor="center", yanchor="middle", textangle=-90,
                            font=dict(family=SANS, size=41, color="black")))

# ---------------- slide annotations ----------------
def box(x0, y0, x1, y1, w=2):
    shapes.append(dict(type="rect", xref="paper", yref="paper", x0=px(x0), x1=px(x1),
                       y0=py(y1), y1=py(y0), line=dict(color="black", width=w), layer="above"))

def line(xa_, ya_, xb, yb, color=ARROW, w=2.5):
    shapes.append(dict(type="line", xref="paper", yref="paper", x0=px(xa_), y0=py(ya_),
                       x1=px(xb), y1=py(yb), line=dict(color=color, width=w)))

def tri(pts, color=ARROW):
    d = "M " + " L ".join(f"{px(a):.6f},{py(b):.6f}" for a, b in pts) + " Z"
    shapes.append(dict(type="path", xref="paper", yref="paper", path=d,
                       fillcolor=color, line=dict(color=color, width=1)))

def text(t, x, y, size, color="black", anchor="center"):
    annotations.append(dict(text=t, x=px(x), y=py(y), xref="paper", yref="paper", showarrow=False,
                            xanchor=anchor, yanchor="middle",
                            font=dict(family=SERIF, size=size, color=color)))

text("Source: Su, 2021", 335, 57, 46, color="#d4d4d4")
box(585, 13, 919, 92)
text("Concentration", 752, 53, 51)
box(7, 142, 288, 219)
text("Asymmetry", 147, 181, 49)
box(585, 795, 885, 929)
text("Gini", 603, 836, 49, anchor="left")
text("Coeffiecient", 603, 892, 49, anchor="left")
box(1520, 882, 1797, 1074)
text("2<sup>nd</sup> order", 1538, 927, 50, anchor="left")
text("moment of", 1538, 984, 50, anchor="left")
text("light", 1538, 1041, 50, anchor="left")

# separator line
line(138, 958, 2363, 958, color="black", w=4)

# arrow up to "Asymmetry"
line(61, 368, 61, 240)
tri([(61, 226), (54, 242), (68, 242)])
# curved arrow to "Concentration"
pts = [(918, 145), (890, 143), (866, 137), (861, 120), (857, 104), (838, 97), (818, 95)]
d = f"M {px(pts[0][0]):.6f},{py(pts[0][1]):.6f} C " + " ".join(
    f"{px(a):.6f},{py(b):.6f}" for a, b in pts[1:4]) + " C " + " ".join(
    f"{px(a):.6f},{py(b):.6f}" for a, b in pts[4:7])
shapes.append(dict(type="path", xref="paper", yref="paper", path=d,
                   line=dict(color=ARROW, width=2.5)))
tri([(804, 94), (820, 88), (819, 101)])
# arrow to "Gini Coeffiecient"
line(861, 663, 749, 782)
tri([(739, 793), (755, 786), (745, 776)])
# arrow to "2nd order moment of light"
line(1678, 717, 1678, 866)
tri([(1678, 881), (1671, 865), (1685, 865)])
# line from the box above S
line(1732, 0, 1732, 144)

layout["shapes"] = shapes
layout["annotations"] = annotations
fig.update_layout(**layout)
fig.write_html("out.html")
